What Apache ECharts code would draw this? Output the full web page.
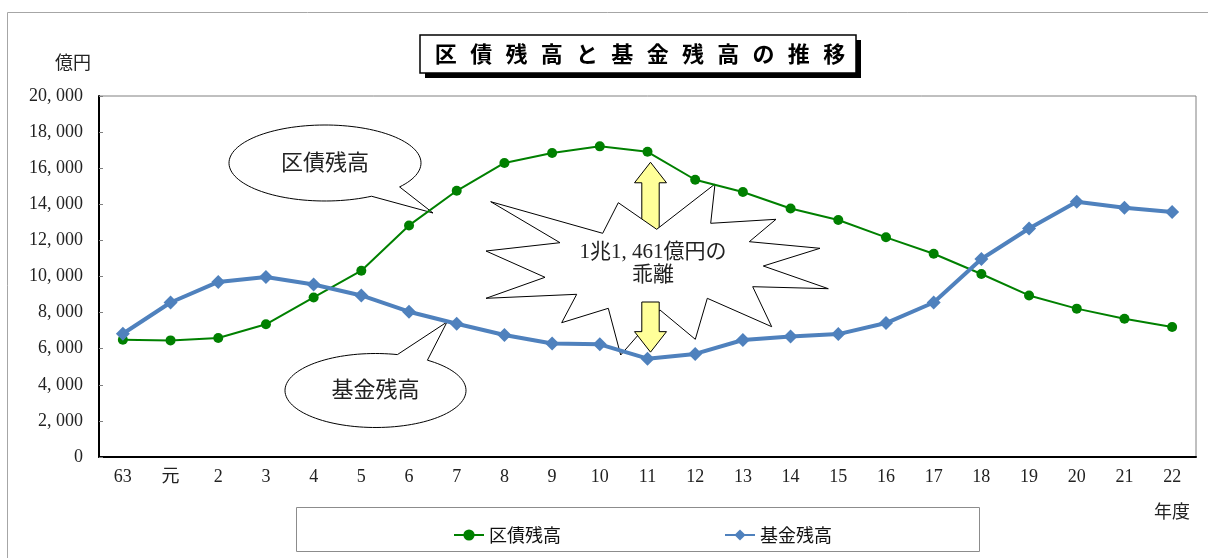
<!DOCTYPE html>
<html>
<head>
<meta charset="utf-8">
<script src="https://cdn.jsdelivr.net/npm/echarts@6/dist/echarts.min.js"></script>
<style>
  html, body { margin: 0; padding: 0; background: #fff; }
  #chart { width: 1208px; height: 558px; }
</style>
</head>
<body>
<div id="chart"></div>
<script>
// 年度 (昭和63年度〜平成22年度)
const categories = ['63', '元', '2', '3', '4', '5', '6', '7', '8', '9', '10', '11',
  '12', '13', '14', '15', '16', '17', '18', '19', '20', '21', '22'];

// 区債残高（億円）
const kusaiZandaka = [6500, 6460, 6590, 7350, 8840, 10320, 12830, 14750, 16290, 16840, 17210, 16910,
  15360, 14680, 13770, 13130, 12170, 11260, 10140, 8950, 8220, 7660, 7200];

// 基金残高（億円）
const kikinZandaka = [6830, 8560, 9700, 9970, 9560, 8950, 8050, 7380, 6760, 6290, 6240, 5449,
  5710, 6480, 6680, 6810, 7420, 8560, 10970, 12660, 14140, 13810, 13570];

const yMin = 0;
const yMax = 20000;
const yInterval = 2000;

const chartTitle = '区債残高と基金残高の推移';
const seriesNames = ['区債残高', '基金残高'];
const gapYear = '11';

const SERIF = "'Liberation Serif', 'Noto Sans CJK JP', serif";
const GOTHIC = "'Noto Sans CJK JP', sans-serif";

// 3桁区切り（カンマの後に空きを入れる表記）
function withComma(v) {
  return String(v).replace(/\B(?=(\d{3})+(?!\d))/g, ', ');
}

const chart = echarts.init(document.getElementById('chart'), null, { renderer: 'canvas' });

chart.setOption({
  animation: false,
  backgroundColor: '#fff',
  grid: {
    left: 99, top: 96, width: 1097, height: 361,
    show: true, borderColor: '#808080', borderWidth: 1, backgroundColor: 'transparent'
  },
  legend: {
    data: seriesNames,
    left: 448, top: 521,
    itemWidth: 30, itemHeight: 14, itemGap: 163,
    textStyle: { fontFamily: GOTHIC, fontSize: 18, color: '#111' }
  },
  xAxis: {
    type: 'category',
    data: categories,
    boundaryGap: true,
    axisLine: { lineStyle: { color: '#000', width: 2 } },
    axisTick: { inside: true, length: 4, lineStyle: { color: '#808080' } },
    axisLabel: { interval: 0, margin: 11, fontFamily: SERIF, fontSize: 18, color: '#222' },
    splitLine: { show: false }
  },
  yAxis: {
    type: 'value',
    min: yMin, max: yMax, interval: yInterval,
    axisLine: { show: true, lineStyle: { color: '#000', width: 2 } },
    axisTick: { show: true, inside: true, length: 4, lineStyle: { color: '#808080' } },
    axisLabel: { margin: 16, fontFamily: SERIF, fontSize: 18, color: '#222', formatter: v => withComma(v) },
    splitLine: { show: false }
  },
  series: [
    {
      name: seriesNames[0], type: 'line', data: kusaiZandaka, z: 3,
      symbol: 'circle', symbolSize: 10,
      lineStyle: { color: '#008000', width: 2 },
      itemStyle: { color: '#008000' }
    },
    {
      name: seriesNames[1], type: 'line', data: kikinZandaka, z: 4,
      symbol: 'diamond', symbolSize: 14,
      lineStyle: { color: '#4F81BD', width: 4 },
      itemStyle: { color: '#4F81BD' }
    }
  ]
});

// 吹き出し（楕円＋しっぽ）の頂点列：しっぽの根元 tStart から長い方の弧を回って tEnd、そこから先端へ
function bubblePoints(cx, cy, rx, ry, tStart, tEnd, tip) {
  const pts = [];
  const dir = tEnd > tStart ? -1 : 1;
  const span = 360 - Math.abs(tEnd - tStart);
  const n = 120;
  for (let i = 0; i <= n; i++) {
    const t = (tStart + dir * span * i / n) * Math.PI / 180;
    pts.push([cx + rx * Math.cos(t), cy + ry * Math.sin(t)]);
  }
  pts.push(tip);
  return pts;
}

// 上下の矢印
function arrowPoints(cx, tipY, baseY, dir) {
  const head = 16, shaft = 8.7, hl = 20.5 * dir;
  return [
    [cx, tipY], [cx + head, tipY + hl], [cx + shaft, tipY + hl], [cx + shaft, baseY],
    [cx - shaft, baseY], [cx - shaft, tipY + hl], [cx - head, tipY + hl]
  ];
}

const gi = categories.indexOf(gapYear);
const gapValue = kusaiZandaka[gi] - kikinZandaka[gi];
const gapText = Math.floor(gapValue / 10000) + '兆' + withComma(gapValue % 10000) + '億円の';
const topPt = chart.convertToPixel({ seriesIndex: 0 }, [gi, kusaiZandaka[gi]]);
const botPt = chart.convertToPixel({ seriesIndex: 1 }, [gi, kikinZandaka[gi]]);
const arrowX = topPt[0] + 3;

// 爆発形の枠
const starPts = [
  [490.7, 201.7], [602.7, 233.3], [618.3, 202.7], [656.7, 229.3], [715, 184], [710.7, 223.3],
  [776, 219.3], [749.3, 241.7], [820, 248.3], [763.3, 266], [828.3, 288.7], [752.7, 286.7],
  [771.7, 326.7], [707.3, 298.3], [695.3, 339.3], [660, 310], [620.7, 355], [608.3, 308.3],
  [561.7, 322.7], [576.7, 294.3], [486, 298.3], [545, 277.3], [486, 251], [560, 242.7]
];

const titleRich = chartTitle.split('').map(c => '{c|' + c + '}').join('');

chart.setOption({
  graphic: [
    // 外枠
    { type: 'polyline', z: 0, silent: true,
      shape: { points: [[7.5, 558], [7.5, 12.5], [1208, 12.5]] },
      style: { stroke: '#a6a6a6', lineWidth: 1, fill: null } },
    // タイトル枠
    { type: 'rect', z: 1, shape: { x: 425, y: 40, width: 436, height: 38 }, style: { fill: '#000' } },
    { type: 'rect', z: 1, shape: { x: 420, y: 35, width: 436, height: 38 },
      style: { fill: '#fff', stroke: '#000', lineWidth: 1.5 } },
    { type: 'text', z: 2, x: 640, y: 54,
      style: {
        text: titleRich, align: 'center', verticalAlign: 'middle',
        rich: { c: { width: 35.3, align: 'center', fontFamily: GOTHIC, fontSize: 22, fontWeight: 'bold', fill: '#000' } }
      } },
    // 単位
    { type: 'text', z: 2, x: 73, y: 64,
      style: { text: '億円', align: 'center', verticalAlign: 'middle', font: '18px ' + SERIF, fill: '#222' } },
    { type: 'text', z: 2, x: 1172, y: 513,
      style: { text: '年度', align: 'center', verticalAlign: 'middle', font: '18px ' + SERIF, fill: '#222' } },
    // 凡例枠
    { type: 'rect', z: 1, shape: { x: 296.5, y: 507.5, width: 683, height: 44 },
      style: { fill: null, stroke: '#8c8c8c', lineWidth: 1 } },
    // 吹き出し：区債残高
    { type: 'polygon', z: 1, shape: { points: bubblePoints(325, 163, 96, 38, 39, 61, [433, 213]) },
      style: { fill: '#fff', stroke: '#000', lineWidth: 1 } },
    { type: 'text', z: 2, x: 325, y: 164,
      style: { text: seriesNames[0], align: 'center', verticalAlign: 'middle', font: '22px ' + SERIF, fill: '#222' } },
    // 吹き出し：基金残高
    { type: 'polygon', z: 1, shape: { points: bubblePoints(375.5, 390.5, 90.5, 37, -55, -76, [447, 322]) },
      style: { fill: '#fff', stroke: '#000', lineWidth: 1 } },
    { type: 'text', z: 2, x: 375.5, y: 391,
      style: { text: seriesNames[1], align: 'center', verticalAlign: 'middle', font: '22px ' + SERIF, fill: '#222' } },
    // 乖離の矢印（上向きは注記の下に潜る）
    { type: 'polygon', z: 1, shape: { points: arrowPoints(arrowX, topPt[1] + 10.5, 245, 1) },
      style: { fill: '#FFFF99', stroke: '#000', lineWidth: 1 } },
    // 乖離の注記
    { type: 'polygon', z: 1, shape: { points: starPts },
      style: { fill: '#fff', stroke: '#000', lineWidth: 1 } },
    // 下向きの矢印は注記の上に重ねる
    { type: 'polygon', z: 1, shape: { points: arrowPoints(arrowX, botPt[1] - 6.5, 302, -1) },
      style: { fill: '#FFFF99', stroke: '#000', lineWidth: 1 } },
    { type: 'text', z: 2, x: 653, y: 264,
      style: { text: gapText + '\n乖離', align: 'center', verticalAlign: 'middle', lineHeight: 23,
        font: '21px ' + SERIF, fill: '#222' } }
  ]
});
</script>
</body>
</html>
